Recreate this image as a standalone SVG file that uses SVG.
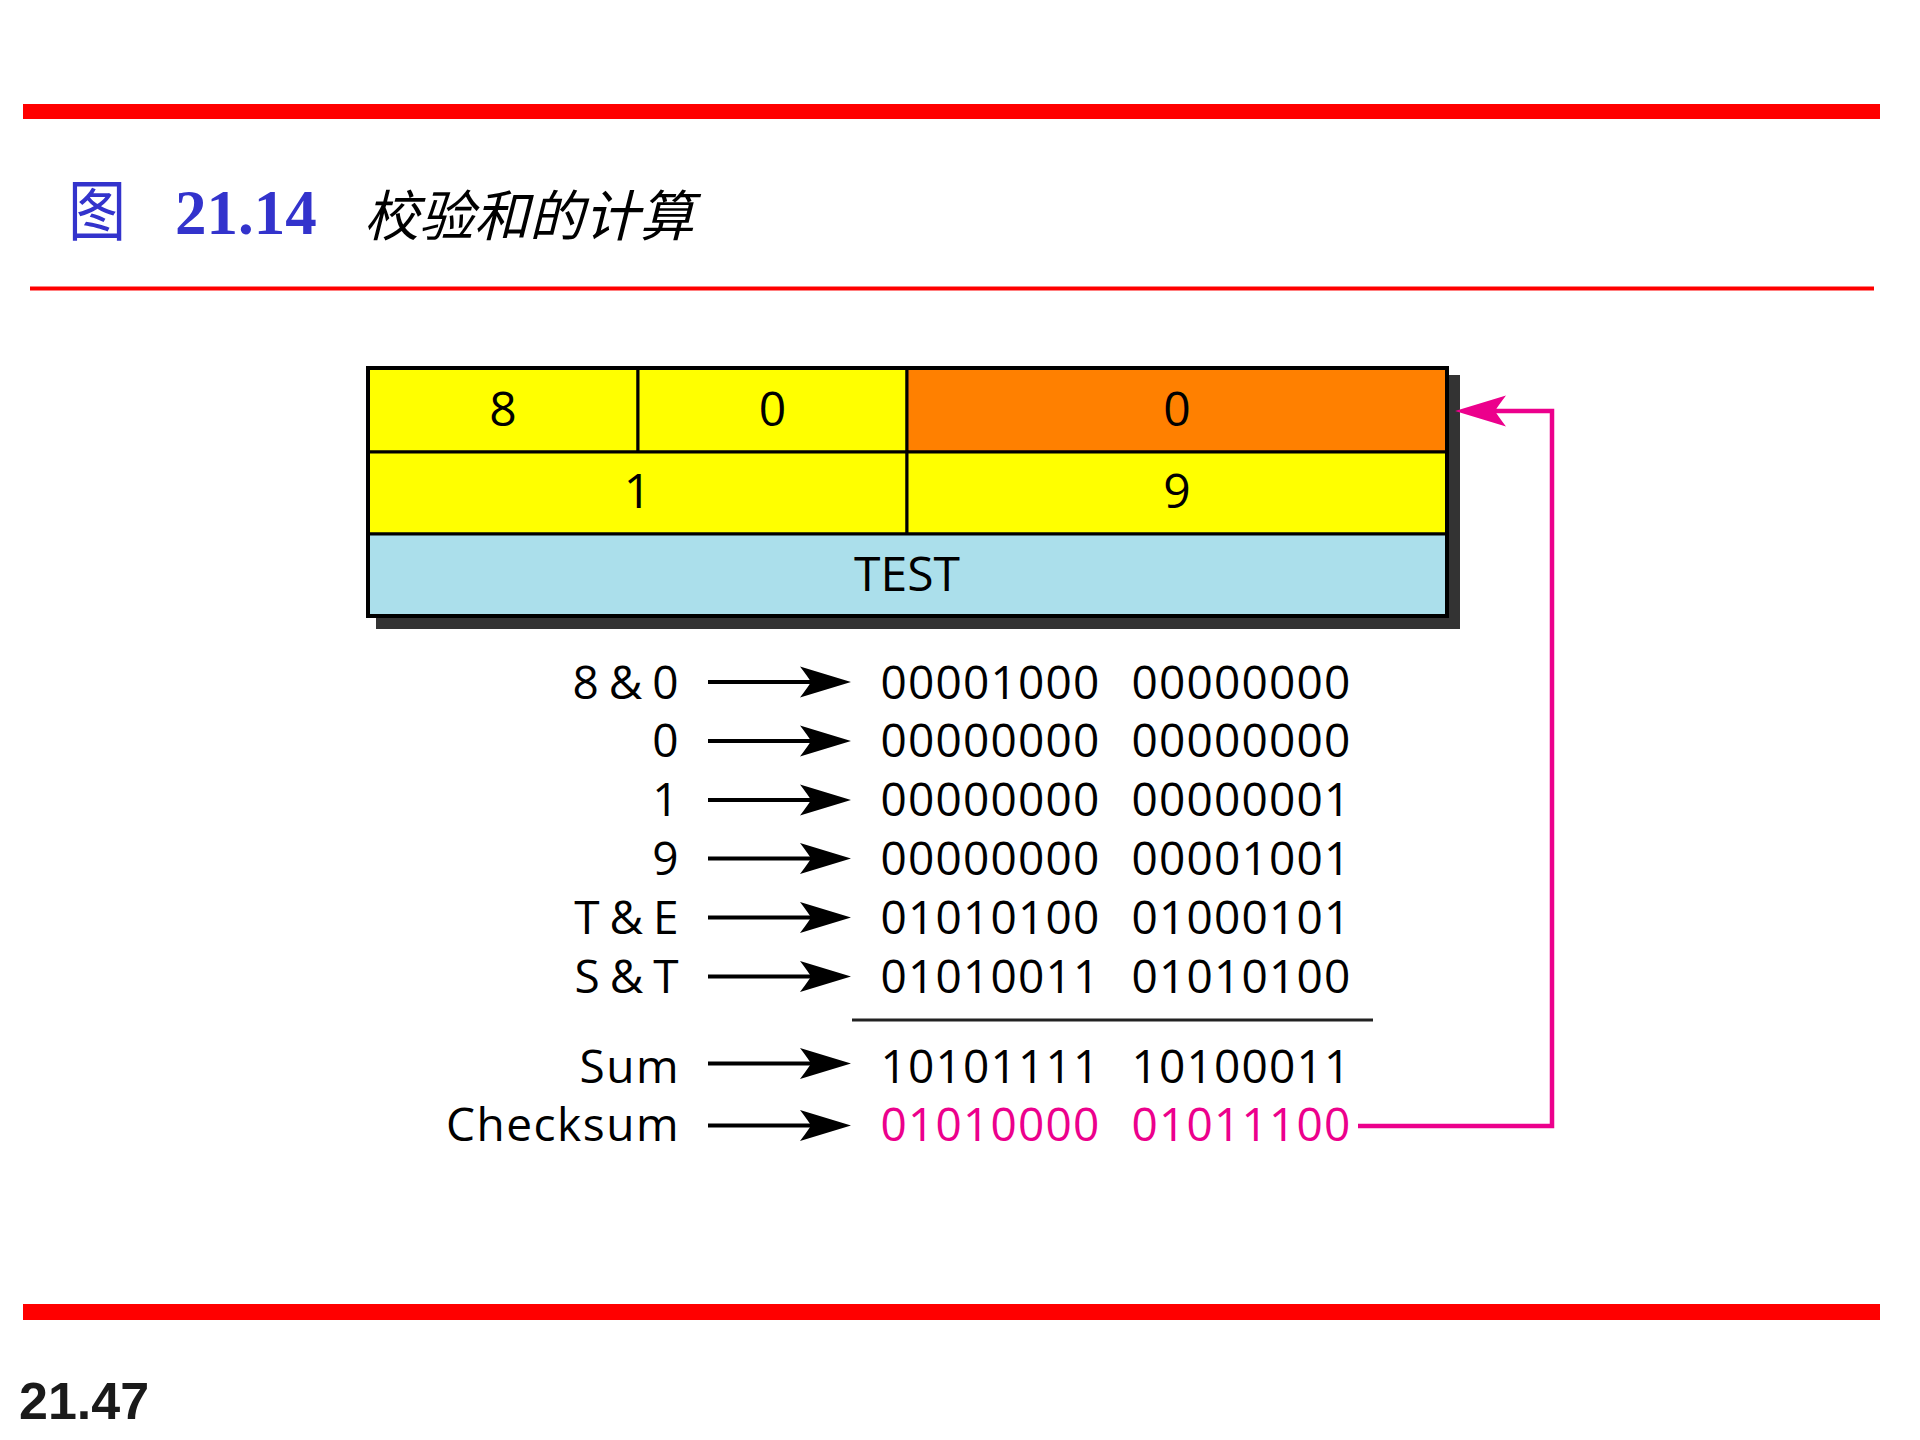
<svg xmlns="http://www.w3.org/2000/svg" width="1920" height="1440" viewBox="0 0 1920 1440">
  <style>
    .rule { fill: #FF0000; }
    .cell { stroke: #000; stroke-width: 3; }
    .ct { font-family: "Open Sans", "Liberation Sans", sans-serif; font-size: 48px; fill: #000; text-anchor: middle; }
    .lbl { font-family: "Open Sans", "Liberation Sans", sans-serif; font-size: 46px; letter-spacing: 1.5px; word-spacing: -5px; fill: #000; text-anchor: end; }
    .bin { font-family: "Open Sans", "Liberation Sans", sans-serif; font-size: 46px; letter-spacing: 1.2px; fill: #000; }
    .pink { fill: #EC008C; }
    .arr { stroke: #000; stroke-width: 4; fill: none; marker-end: url(#ah); }
  </style>
  <defs>
    <marker id="ah" markerUnits="userSpaceOnUse" viewBox="-55 -20 60 40" markerWidth="60" markerHeight="40" refX="-13" refY="0" orient="auto" overflow="visible">
      <path d="M0,0 L-51,-15.5 Q-43,-5 -40,0 Q-43,5 -51,15.5 Z" fill="#000"/>
    </marker>
    <marker id="ahp" markerUnits="userSpaceOnUse" viewBox="-55 -20 60 40" markerWidth="60" markerHeight="40" refX="-13" refY="0" orient="auto" overflow="visible">
      <path d="M0,0 L-51,-15.5 Q-43,-5 -40,0 Q-43,5 -51,15.5 Z" fill="#EC008C"/>
    </marker>
  </defs>
  <rect width="1920" height="1440" fill="#FFFFFF"/>

  <g id="header">
    <rect class="rule" x="23" y="104" width="1857" height="15"/>
    <text transform="translate(68,235) scale(0.88,1)" font-family="'Noto Sans CJK SC', sans-serif" font-size="66" fill="#3333CC">图</text>
    <text x="175" y="234" font-family="'Liberation Serif', serif" font-weight="bold" font-size="63" fill="#3333CC">21.14</text>
    <text x="364" y="236" font-family="'Noto Sans CJK SC', sans-serif" font-style="italic" font-size="55" fill="#000">校验和的计算</text>
    <rect class="rule" x="30" y="286.5" width="1844" height="4"/>
  </g>

  <g id="packet">
    <rect x="376" y="375" width="1084" height="254" fill="#333333"/>
    <g id="cell-8">
      <rect class="cell" x="368" y="368" width="270" height="84" fill="#FFFF00"/>
      <text class="ct" x="503" y="426">8</text>
    </g>
    <g id="cell-0a">
      <rect class="cell" x="638" y="368" width="269" height="84" fill="#FFFF00"/>
      <text class="ct" x="772.5" y="426">0</text>
    </g>
    <g id="cell-0b">
      <rect class="cell" x="907" y="368" width="540" height="84" fill="#FF8000"/>
      <text class="ct" x="1177" y="426">0</text>
    </g>
    <g id="cell-1">
      <rect class="cell" x="368" y="452" width="539" height="82" fill="#FFFF00"/>
      <text class="ct" x="637.5" y="508">1</text>
    </g>
    <g id="cell-9">
      <rect class="cell" x="907" y="452" width="540" height="82" fill="#FFFF00"/>
      <text class="ct" x="1177" y="508">9</text>
    </g>
    <g id="cell-test">
      <rect class="cell" x="368" y="534" width="1079" height="82" fill="#ABDFEB"/>
      <text class="ct" x="907" y="591">TEST</text>
    </g>
    <rect x="368" y="368" width="1079" height="248" fill="none" stroke="#000" stroke-width="4"/>
  </g>

  <g id="row-80">
    <text class="lbl" x="680" y="698.5">8 &amp; 0</text>
    <text class="bin" x="880.5" y="698.5">00001000</text>
    <text class="bin" x="1131.5" y="698.5">00000000</text>
  </g>
  <g id="row-0">
    <text class="lbl" x="680" y="757.3">0</text>
    <text class="bin" x="880.5" y="757.3">00000000</text>
    <text class="bin" x="1131.5" y="757.3">00000000</text>
  </g>
  <g id="row-1">
    <text class="lbl" x="680" y="816.1">1</text>
    <text class="bin" x="880.5" y="816.1">00000000</text>
    <text class="bin" x="1131.5" y="816.1">00000001</text>
  </g>
  <g id="row-9">
    <text class="lbl" x="680" y="874.9">9</text>
    <text class="bin" x="880.5" y="874.9">00000000</text>
    <text class="bin" x="1131.5" y="874.9">00001001</text>
  </g>
  <g id="row-te">
    <text class="lbl" x="680" y="933.7">T &amp; E</text>
    <text class="bin" x="880.5" y="933.7">01010100</text>
    <text class="bin" x="1131.5" y="933.7">01000101</text>
  </g>
  <g id="row-st">
    <text class="lbl" x="680" y="992.5">S &amp; T</text>
    <text class="bin" x="880.5" y="992.5">01010011</text>
    <text class="bin" x="1131.5" y="992.5">01010100</text>
  </g>
  <g id="sum-rule">
    <line x1="852" y1="1020" x2="1373" y2="1020" stroke="#222" stroke-width="3"/>
  </g>
  <g id="row-sum">
    <text class="lbl" x="680" y="1082.5">Sum</text>
    <text class="bin" x="880.5" y="1082.5">10101111</text>
    <text class="bin" x="1131.5" y="1082.5">10100011</text>
  </g>
  <g id="row-checksum">
    <text class="lbl" x="680" y="1141">Checksum</text>
    <text class="bin pink" x="880.5" y="1141">01010000</text>
    <text class="bin pink" x="1131.5" y="1141">01011100</text>
  </g>

  <g id="connectors">
    <line class="arr" x1="708" y1="682" x2="838" y2="682"/>
    <line class="arr" x1="708" y1="741" x2="838" y2="741"/>
    <line class="arr" x1="708" y1="800" x2="838" y2="800"/>
    <line class="arr" x1="708" y1="858.5" x2="838" y2="858.5"/>
    <line class="arr" x1="708" y1="917.5" x2="838" y2="917.5"/>
    <line class="arr" x1="708" y1="976.5" x2="838" y2="976.5"/>
    <line class="arr" x1="708" y1="1063.5" x2="838" y2="1063.5"/>
    <line class="arr" x1="708" y1="1125.5" x2="838" y2="1125.5"/>
    <path d="M1358,1126 H1552 V411 H1468" fill="none" stroke="#EC008C" stroke-width="4.5" stroke-linejoin="miter" marker-end="url(#ahp)"/>
  </g>

  <g id="footer">
    <rect class="rule" x="23" y="1304" width="1857" height="16"/>
    <text x="19" y="1419" font-family="'Liberation Sans', sans-serif" font-weight="bold" font-size="52" fill="#1A1A1A">21.47</text>
  </g>
</svg>
